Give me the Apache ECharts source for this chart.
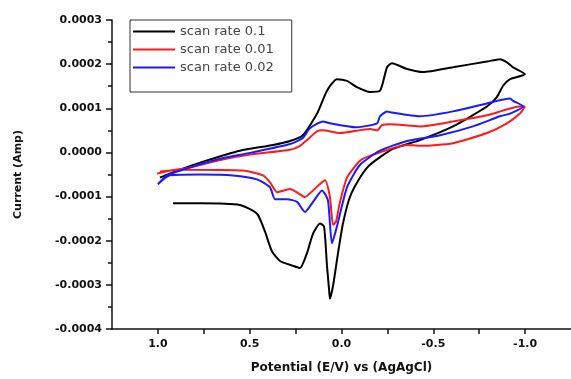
<!DOCTYPE html>
<html>
<head>
<meta charset="utf-8">
<script src="https://cdn.jsdelivr.net/npm/echarts@6/dist/echarts.min.js"></script>
<style>
  html, body { margin: 0; padding: 0; background: #fff; }
  #panel { width: 571px; height: 379px; }
</style>
</head>
<body>
<div id="panel"></div>
<script>
// potential (V) and current (x 1e-4 A)
var blackE = [0.918, 0.771, 0.553, 0.460, 0.417, 0.379, 0.335, 0.264, 0.226, 0.188, 0.155, 0.117, 0.095, 0.079, 0.068, 0.063, 0.046, 0.019, -0.008, -0.046, -0.101, -0.155, -0.280, -0.428, -0.607, -0.792, -0.847, -0.880, -0.918, -0.999, -0.934, -0.901, -0.863, -0.792, -0.607, -0.444, -0.357, -0.275, -0.248, -0.210, -0.155, -0.084, -0.030, 0.025, 0.079, 0.133, 0.210, 0.280, 0.373, 0.553, 0.733, 0.880, 0.989];
var blackI = [-1.15, -1.15, -1.19, -1.39, -1.79, -2.24, -2.46, -2.57, -2.62, -2.28, -1.84, -1.61, -1.68, -2.57, -3.09, -3.31, -3.02, -2.28, -1.61, -1.01, -0.57, -0.28, 0.08, 0.28, 0.59, 1.04, 1.26, 1.51, 1.66, 1.77, 1.93, 2.04, 2.11, 2.06, 1.93, 1.82, 1.89, 2.02, 1.93, 1.40, 1.37, 1.48, 1.62, 1.66, 1.40, 0.88, 0.39, 0.26, 0.17, 0.04, -0.18, -0.39, -0.57];

var redE = [0.989, 0.863, 0.537, 0.428, 0.389, 0.351, 0.280, 0.237, 0.199, 0.155, 0.090, 0.063, 0.046, 0.030, 0.008, -0.030, -0.101, -0.172, -0.357, -0.428, -0.607, -0.792, -0.901, -0.972, -0.999, -0.972, -0.792, -0.607, -0.428, -0.264, -0.221, -0.194, -0.155, 0.008, 0.101, 0.133, 0.188, 0.226, 0.280, 0.498, 0.678, 0.825, 0.934, 1.005];
var redI = [-0.43, -0.39, -0.41, -0.52, -0.68, -0.90, -0.83, -0.92, -1.01, -0.86, -0.63, -1.01, -1.64, -1.57, -1.12, -0.57, -0.19, -0.05, 0.17, 0.15, 0.21, 0.44, 0.66, 0.88, 1.04, 1.04, 0.84, 0.70, 0.59, 0.64, 0.62, 0.50, 0.53, 0.44, 0.50, 0.48, 0.28, 0.15, 0.06, -0.05, -0.19, -0.34, -0.41, -0.48];

var blueE = [1.000, 0.934, 0.771, 0.591, 0.460, 0.389, 0.362, 0.297, 0.242, 0.199, 0.155, 0.106, 0.074, 0.052, 0.025, -0.030, -0.101, -0.210, -0.357, -0.537, -0.716, -0.863, -0.918, -0.989, -0.934, -0.918, -0.792, -0.607, -0.428, -0.264, -0.248, -0.210, -0.194, -0.084, 0.063, 0.101, 0.172, 0.210, 0.280, 0.498, 0.678, 0.863, 0.950, 1.000];
var blueI = [-0.72, -0.52, -0.50, -0.52, -0.61, -0.79, -1.06, -1.06, -1.12, -1.35, -1.12, -0.86, -1.08, -2.06, -1.68, -0.79, -0.28, 0.04, 0.26, 0.39, 0.59, 0.82, 0.88, 1.04, 1.17, 1.22, 1.11, 0.93, 0.82, 0.91, 0.93, 0.82, 0.66, 0.57, 0.66, 0.70, 0.55, 0.33, 0.19, -0.01, -0.16, -0.39, -0.52, -0.72];

var seriesNames = ['scan rate 0.1', 'scan rate 0.01', 'scan rate 0.02'];
var seriesColors = ['#000000', '#ff1a1a', '#1a1aff'];

function pairs(e, i)
{
    var out = [];
    for (var k = 0; k < e.length; k++) out.push([e[k], i[k] * 1e-4]);
    return out;
}

var boldFont = 'DejaVu Sans';
var myChart = echarts.init(document.getElementById('panel'));
var dataSets = [pairs(blackE, blackI), pairs(redE, redI), pairs(blueE, blueI)];

myChart.setOption({
    animation: false,
    backgroundColor: '#fff',
    grid: { left: 112, right: 0, top: 20, bottom: 45 },
    legend: {
        orient: 'vertical',
        left: 130,
        top: 20,
        padding: [5, 18, 18, 3],
        itemGap: 5,
        itemWidth: 42,
        itemHeight: 2,
        icon: 'rect',
        borderColor: '#333',
        borderWidth: 1,
        textStyle: { fontFamily: 'DejaVu Sans', fontSize: 13, color: '#444' },
        data: seriesNames
    },
    xAxis: {
        type: 'value',
        inverse: true,
        min: -1.25,
        max: 1.25,
        interval: 0.25,
        name: 'Potential (E/V) vs (AgAgCl)',
        nameLocation: 'middle',
        nameGap: 33,
        nameTextStyle: { fontFamily: boldFont, fontWeight: 'bold', fontSize: 12, color: '#111' },
        axisLine: { onZero: false, lineStyle: { color: '#111', width: 1.5 } },
        axisTick: { length: 5, lineStyle: { color: '#111', width: 1.5 } },
        axisLabel: {
            margin: 10,
            showMinLabel: false,
            showMaxLabel: false,
            fontFamily: boldFont, fontWeight: 'bold', fontSize: 11, color: '#111',
            formatter: function (v)
            {
                var r = Math.round(v * 4);
                return r % 2 === 0 ? v.toFixed(1) : '';
            }
        },
        splitLine: { show: false }
    },
    yAxis: {
        type: 'value',
        position: 'left',
        min: -0.0004,
        max: 0.0003,
        interval: 0.0001,
        name: 'Current (Amp)',
        nameLocation: 'middle',
        nameGap: 88,
        nameTextStyle: { fontFamily: boldFont, fontWeight: 'bold', fontSize: 11, color: '#111' },
        axisLine: { show: true, onZero: false, lineStyle: { color: '#111', width: 1.5 } },
        axisTick: { show: true, length: 6, lineStyle: { color: '#111', width: 1.5 } },
        minorTick: { show: true, splitNumber: 2, length: 4, lineStyle: { color: '#111', width: 1.5 } },
        axisLabel: {
            margin: 10,
            fontFamily: boldFont, fontWeight: 'bold', fontSize: 11, color: '#111',
            formatter: function (v) { return v.toFixed(4); }
        },
        splitLine: { show: false }
    },
    series: seriesNames.map(function (name, idx)
    {
        return {
            name: name,
            type: 'line',
            data: dataSets[idx],
            symbol: 'none',
            smooth: 0.2,
            color: seriesColors[idx],
            lineStyle: { width: 2, color: seriesColors[idx] }
        };
    })
});
</script>
</body>
</html>
